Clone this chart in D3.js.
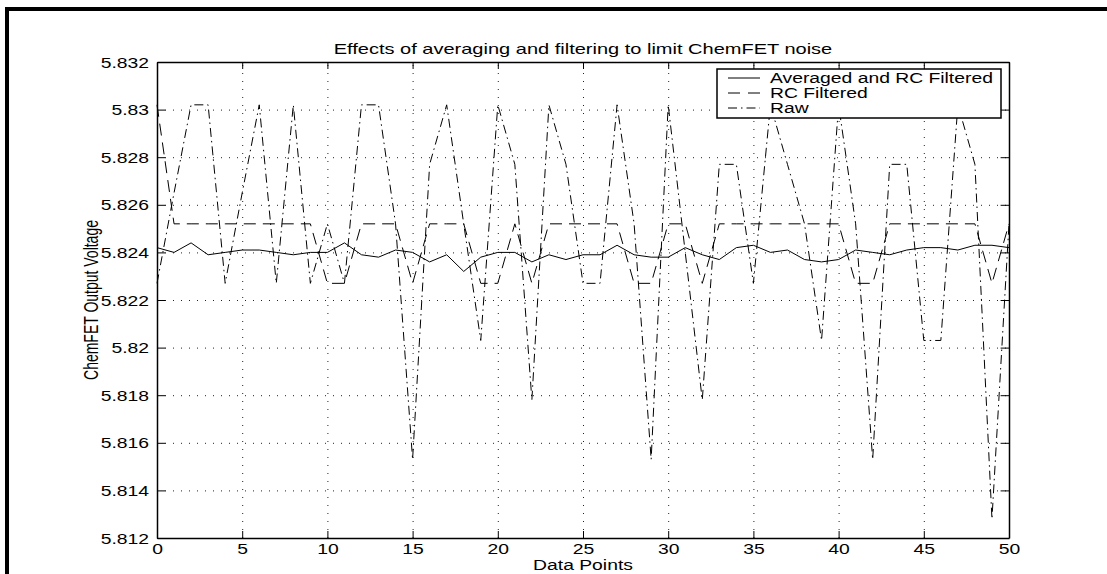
<!DOCTYPE html>
<html>
<head>
<meta charset="utf-8">
<script src="https://cdn.jsdelivr.net/npm/d3@7"></script>
<style>
  body { margin: 0; background: #fff; }
  text { font-family: "Liberation Sans", Arial, Helvetica, sans-serif; fill: #000; }
</style>
</head>
<body>
<div id="chart"></div>
<script>
// values, one per data point (x = 0 .. 50)
const averaged = [
  5.8242, 5.8240, 5.8244, 5.8239, 5.8240, 5.8241, 5.8241, 5.8240, 5.8239, 5.8240,
  5.8240, 5.8244, 5.8239, 5.8238, 5.8241, 5.8240, 5.8236, 5.8239, 5.8232, 5.8238,
  5.8240, 5.8240, 5.8236, 5.8239, 5.8237, 5.8239, 5.8239, 5.8243, 5.8239, 5.8238,
  5.8238, 5.8242, 5.8239, 5.8237, 5.8242, 5.8243, 5.8240, 5.8241, 5.8237, 5.8236,
  5.8237, 5.8241, 5.8240, 5.8239, 5.8241, 5.8242, 5.8242, 5.8241, 5.8243, 5.8243,
  5.8242
];
const rcFiltered = [
  5.8302, 5.8252, 5.8252, 5.8252, 5.8252, 5.8252, 5.8252, 5.8252, 5.8252, 5.8252,
  5.8227, 5.8227, 5.8252, 5.8252, 5.8252, 5.8227, 5.8252, 5.8252, 5.8252, 5.8227,
  5.8227, 5.8252, 5.8227, 5.8252, 5.8252, 5.8252, 5.8252, 5.8252, 5.8227, 5.8227,
  5.8252, 5.8252, 5.8227, 5.8252, 5.8252, 5.8252, 5.8252, 5.8252, 5.8252, 5.8252,
  5.8252, 5.8227, 5.8227, 5.8252, 5.8252, 5.8252, 5.8252, 5.8252, 5.8252, 5.8227,
  5.8252
];
const raw = [
  5.8227, 5.8265, 5.8302, 5.8302, 5.8227, 5.8265, 5.8302, 5.8227, 5.8302, 5.8227,
  5.8252, 5.8227, 5.8302, 5.8302, 5.8252, 5.8153, 5.8277, 5.8302, 5.8252, 5.8203,
  5.8302, 5.8277, 5.8178, 5.8302, 5.8277, 5.8227, 5.8227, 5.8302, 5.8252, 5.8153,
  5.8302, 5.8240, 5.8178, 5.8277, 5.8277, 5.8227, 5.8302, 5.8277, 5.8252, 5.8203,
  5.8302, 5.8252, 5.8153, 5.8277, 5.8277, 5.8203, 5.8203, 5.8302, 5.8277, 5.8128,
  5.8252
];

const xTicks = [0, 5, 10, 15, 20, 25, 30, 35, 40, 45, 50];
const yTicks = [5.812, 5.814, 5.816, 5.818, 5.82, 5.822, 5.824, 5.826, 5.828, 5.83, 5.832];
const legendLabels = ["Averaged and RC Filtered", "RC Filtered", "Raw"];

const width = 1107, height = 574;
const plot = {left: 157, right: 1009, top: 62, bottom: 538};
const sx = 1.38; // the picture is stretched sideways, so is its lettering

const svg = d3.select("#chart")
  .append("svg")
  .attr("width", width)
  .attr("height", height);

// thick frame round the figure
svg.append("rect")
  .attr("x", 7).attr("y", 9)
  .attr("width", width + 20).attr("height", height + 20)
  .attr("fill", "none")
  .attr("stroke", "#000")
  .attr("stroke-width", 4);

const x = d3.scaleLinear().domain([0, 50]).range([plot.left, plot.right]);
const y = d3.scaleLinear().domain([5.812, 5.832]).range([plot.bottom, plot.top]);

// dotted grid
svg.append("g")
  .attr("transform", `translate(0,${plot.bottom})`)
  .call(d3.axisBottom(x).tickValues(xTicks.slice(1, -1)).tickSize(-(plot.bottom - plot.top)).tickFormat(""))
  .call(g => g.select(".domain").remove())
  .selectAll("line")
    .attr("stroke", "#222")
    .attr("stroke-dasharray", "1,7");

svg.append("g")
  .attr("transform", `translate(${plot.left},0)`)
  .call(d3.axisLeft(y).tickValues(yTicks.slice(1, -1)).tickSize(-(plot.right - plot.left)).tickFormat(""))
  .call(g => g.select(".domain").remove())
  .selectAll("line")
    .attr("stroke", "#222")
    .attr("stroke-dasharray", "1,7");

// lines
const line = d3.line()
  .x((d, i) => x(i))
  .y(d => y(d));

svg.append("path")
  .datum(raw)
  .attr("fill", "none")
  .attr("stroke", "#000")
  .attr("stroke-width", 1)
  .attr("stroke-dasharray", "9,4,1.5,4")
  .attr("d", line);

svg.append("path")
  .datum(rcFiltered)
  .attr("fill", "none")
  .attr("stroke", "#000")
  .attr("stroke-width", 1)
  .attr("stroke-dasharray", "12,7")
  .attr("d", line);

svg.append("path")
  .datum(averaged)
  .attr("fill", "none")
  .attr("stroke", "#000")
  .attr("stroke-width", 1)
  .attr("d", line);

// axes, ticks point inwards on all four sides
const xAxis = svg.append("g")
  .attr("transform", `translate(0,${plot.bottom})`)
  .call(d3.axisBottom(x).tickValues(xTicks).tickSizeInner(-7).tickSizeOuter(0).tickFormat(d3.format("d")));
xAxis.selectAll("text")
  .attr("y", 16).attr("dy", 0)
  .attr("font-size", "14px")
  .attr("transform", `scale(${sx},1)`);

const yAxis = svg.append("g")
  .attr("transform", `translate(${plot.left},0)`)
  .call(d3.axisLeft(y).tickValues(yTicks).tickSizeInner(-8.4).tickSizeOuter(0).tickFormat(d => String(+d.toFixed(3))));
yAxis.selectAll("text")
  .attr("x", -8 / sx).attr("dy", "0.36em")
  .attr("font-size", "14px")
  .attr("transform", `scale(${sx},1)`);

svg.append("g")
  .attr("transform", `translate(0,${plot.top})`)
  .call(d3.axisTop(x).tickValues(xTicks).tickSizeInner(-7).tickSizeOuter(0).tickFormat(""));

svg.append("g")
  .attr("transform", `translate(${plot.right},0)`)
  .call(d3.axisRight(y).tickValues(yTicks).tickSizeInner(-8.4).tickSizeOuter(0).tickFormat(""));

svg.selectAll(".tick line").filter(function() { return !this.getAttribute("stroke-dasharray"); })
  .attr("stroke", "#000");
svg.selectAll(".domain").attr("stroke", "#000").attr("stroke-width", 1.5);

// title and axis labels
svg.append("text")
  .attr("transform", `translate(${(plot.left + plot.right) / 2},54) scale(${sx},1)`)
  .attr("text-anchor", "middle")
  .attr("font-size", "14.5px")
  .text("Effects of averaging and filtering to limit ChemFET noise");

svg.append("text")
  .attr("transform", `translate(${(plot.left + plot.right) / 2},570) scale(${sx},1)`)
  .attr("text-anchor", "middle")
  .attr("font-size", "14px")
  .text("Data Points");

svg.append("text")
  .attr("transform", `translate(98,${(plot.top + plot.bottom) / 2}) scale(${sx},1) rotate(-90)`)
  .attr("text-anchor", "middle")
  .attr("font-size", "14px")
  .text("ChemFET Output Voltage");

// legend
const legend = svg.append("g").attr("transform", "translate(717,69)");
legend.append("rect")
  .attr("width", 284).attr("height", 49)
  .attr("fill", "#fff")
  .attr("stroke", "#000")
  .attr("stroke-width", 1.5);

const legendDash = [null, "12,8", "9,4,1.5,4"];
legendLabels.forEach((label, i) => {
  legend.append("line")
    .attr("x1", 11).attr("x2", 43)
    .attr("y1", 9 + i * 15).attr("y2", 9 + i * 15)
    .attr("stroke", "#000")
    .attr("stroke-width", 1)
    .attr("stroke-dasharray", legendDash[i]);
  legend.append("text")
    .attr("transform", `translate(53,${14 + i * 15}) scale(${sx},1)`)
    .attr("font-size", "14px")
    .text(label);
});
</script>
</body>
</html>
